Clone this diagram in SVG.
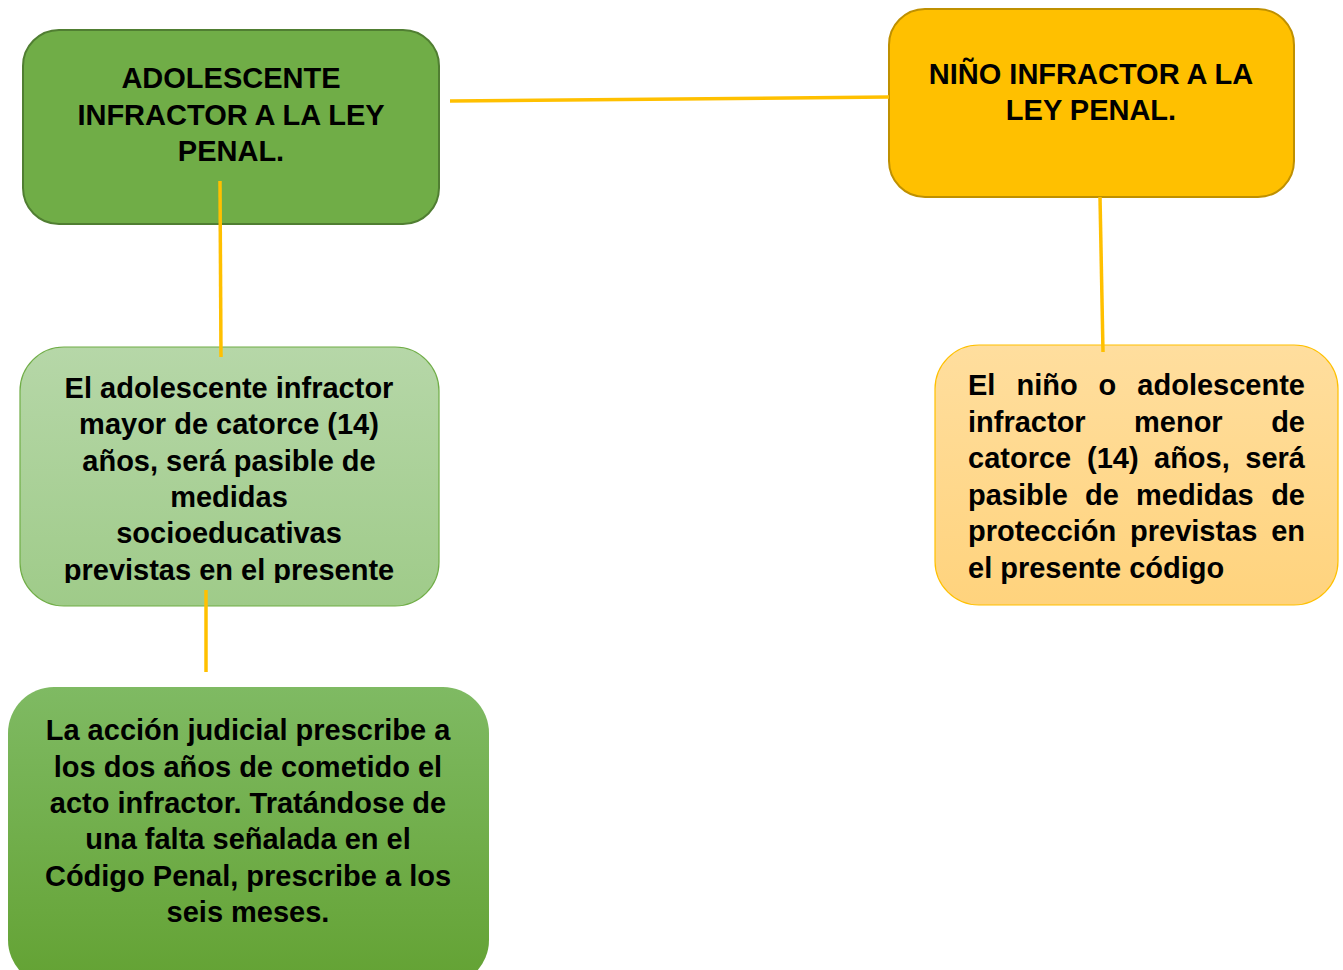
<svg xmlns="http://www.w3.org/2000/svg" width="1343" height="970" viewBox="0 0 1343 970">
<style>
text{font-family:"Liberation Sans",Arial,sans-serif;font-weight:bold;font-size:29px;fill:#000}
.c{text-anchor:middle}
.e{text-anchor:end}
.conn{stroke:#FFC000;stroke-width:3.5;fill:none}
</style>
<defs>
<linearGradient id="g3" x1="0" y1="0" x2="0" y2="1"><stop offset="0" stop-color="#B6D7A8"/><stop offset="1" stop-color="#9FCB89"/></linearGradient>
<linearGradient id="g4" x1="0" y1="0" x2="0" y2="1"><stop offset="0" stop-color="#FFDE9E"/><stop offset="1" stop-color="#FFD37D"/></linearGradient>
<linearGradient id="g5" x1="0" y1="0" x2="0" y2="1"><stop offset="0" stop-color="#7FBA63"/><stop offset="1" stop-color="#63A233"/></linearGradient>
<clipPath id="clip3"><rect x="20" y="347" width="419" height="236"/></clipPath>
</defs>
<g id="node-adolescente">
<rect x="23" y="30" width="416" height="194" rx="36" fill="#70AD47" stroke="#507E32" stroke-width="2"/>
<text class="c" x="231" y="88">ADOLESCENTE</text>
<text class="c" x="231" y="125">INFRACTOR A LA LEY</text>
<text class="c" x="231" y="161">PENAL.</text>
</g>
<g id="node-nino">
<rect x="889" y="9" width="405" height="188" rx="36" fill="#FFC000" stroke="#BF9000" stroke-width="2"/>
<text class="c" x="1091" y="84">NIÑO INFRACTOR A LA</text>
<text class="c" x="1091" y="120">LEY PENAL.</text>
</g>
<g id="node-mayor">
<rect x="20" y="347" width="419" height="259" rx="44" fill="url(#g3)" stroke="#70AD47" stroke-width="1.2"/>
<g clip-path="url(#clip3)">
<text class="c" x="229" y="398">El adolescente infractor</text>
<text class="c" x="229" y="434">mayor de catorce (14)</text>
<text class="c" x="229" y="471">años, será pasible de</text>
<text class="c" x="229" y="507">medidas</text>
<text class="c" x="229" y="543">socioeducativas</text>
<text class="c" x="229" y="580">previstas en el presente</text>
</g>
</g>
<g id="node-menor">
<rect x="935" y="345" width="403" height="260" rx="44" fill="url(#g4)" stroke="#FFC000" stroke-width="1.2"/>
<text x="968" y="395">El</text><text x="1016.5" y="395">niño</text><text x="1098.6" y="395">o</text><text class="e" x="1305" y="395">adolescente</text>
<text x="968" y="432">infractor</text><text x="1134" y="432">menor</text><text class="e" x="1305" y="432">de</text>
<text x="968" y="468">catorce</text><text x="1087" y="468">(14)</text><text x="1154" y="468">años,</text><text class="e" x="1305" y="468">será</text>
<text x="968" y="505">pasible</text><text x="1085" y="505">de</text><text x="1136" y="505">medidas</text><text class="e" x="1305" y="505">de</text>
<text x="968" y="541">protección</text><text x="1130" y="541">previstas</text><text class="e" x="1305" y="541">en</text>
<text x="968" y="578">el presente código</text>
</g>
<g id="node-prescripcion">
<rect x="8" y="687" width="481" height="299" rx="46" fill="url(#g5)"/>
<text class="c" x="248" y="740">La acción judicial prescribe a</text>
<text class="c" x="248" y="777">los dos años de cometido el</text>
<text class="c" x="248" y="813">acto infractor. Tratándose de</text>
<text class="c" x="248" y="849">una falta señalada en el</text>
<text class="c" x="248" y="886">Código Penal, prescribe a los</text>
<text class="c" x="248" y="922">seis meses.</text>
</g>
<g id="connectors">
<line class="conn" x1="450" y1="101" x2="889" y2="97"/>
<line class="conn" x1="220" y1="181" x2="221" y2="357"/>
<line class="conn" x1="1100" y1="197" x2="1103" y2="352"/>
<line class="conn" x1="206" y1="590" x2="206" y2="672"/>
</g>
</svg>
